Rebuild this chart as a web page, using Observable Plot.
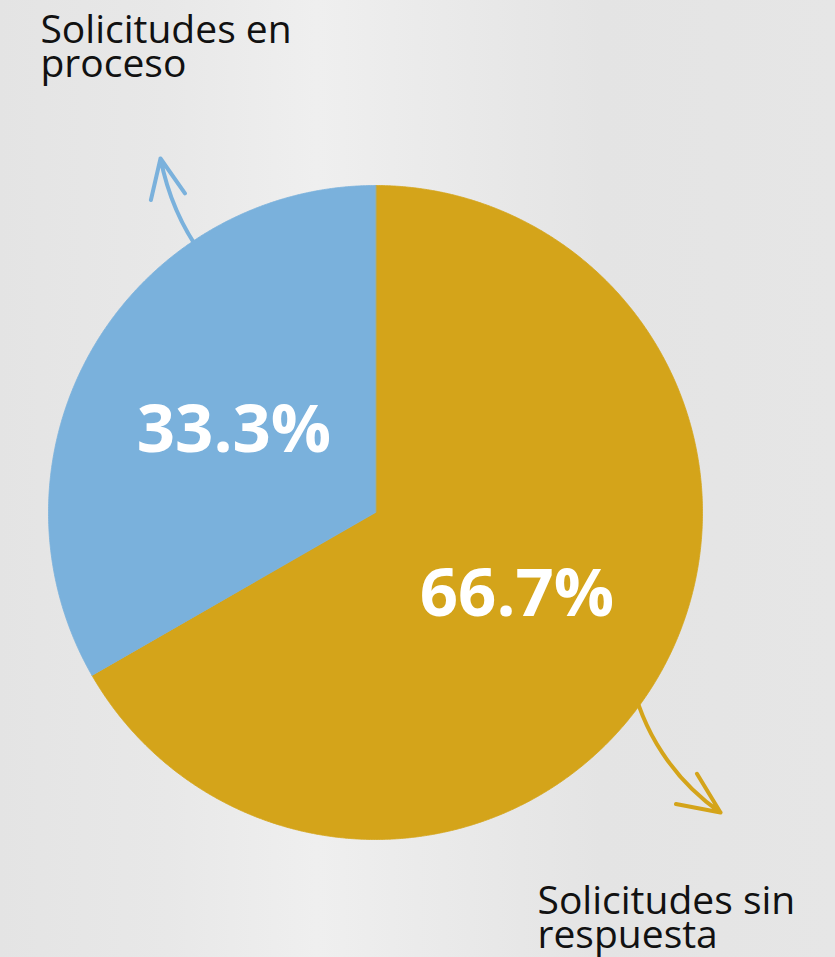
<!DOCTYPE html>
<html><head><meta charset="utf-8">
<script src="https://cdn.jsdelivr.net/npm/d3@7"></script>
<script src="https://cdn.jsdelivr.net/npm/@observablehq/plot@0.6"></script>
<style>
html,body{margin:0;padding:0;width:835px;height:957px;overflow:hidden;}
body{background: linear-gradient(90deg, #e4e4e4 0%, #e8e8e8 20%, #efefef 38%, #ebebeb 50%, #e4e4e4 72%, #e6e6e6 100%);}
#chart svg{display:block;}
</style></head><body><div id="chart"></div>
<script>
// Data
const categories = ["Solicitudes sin respuesta", "Solicitudes en proceso"];
const values = [66.7, 33.3];
const valueLabels = ["66.7%", "33.3%"];
const colors = ["#d4a41a", "#7ab1dc"];
const sideLabels = ["Solicitudes sin\nrespuesta", "Solicitudes en\nproceso"];
// annotation anchors (in pie-radius units)
const labelX = [0.4955, -1.0245];
const labelY = [-1.153, 1.511];
const arrowX1 = [0.78, -0.486];
const arrowY1 = [-0.498, 0.731];
const arrowX2 = [1.055, -0.6575];
const arrowY2 = [-0.9174, 1.0826];
const arrowBend = [-22, 15];

const R = 327, W = 835, H = 957, CX = 375, CY = 512;

const arcs = d3.pie().sort(null).startAngle(0)(values);
function slicePoints(a) {
  const n = Math.max(2, Math.ceil((a.endAngle - a.startAngle) / 0.005));
  const pts = [{x: 0, y: 0}];
  for (let j = 0; j <= n; j++) {
    const t = a.startAngle + (a.endAngle - a.startAngle) * j / n;
    pts.push({x: Math.sin(t), y: Math.cos(t)});
  }
  return pts;
}

const arrowMarks = categories.map((c, i) => Plot.arrow([c], {
  x1: () => arrowX1[i], y1: () => arrowY1[i], x2: () => arrowX2[i], y2: () => arrowY2[i],
  bend: arrowBend[i], stroke: colors[i], strokeWidth: 4, headAngle: 48, headLength: 17,
  strokeLinecap: "round", strokeLinejoin: "round"
}));

const sliceMarks = arcs.map((a, i) => Plot.line(slicePoints(a), {
  x: "x", y: "y", fill: colors[i], stroke: colors[i], strokeWidth: 0.8, curve: "linear-closed"
}));

const chart = Plot.plot({
  width: W, height: H, margin: 0,
  style: {background: "transparent", overflow: "visible"},
  x: {domain: [-CX / R, (W - CX) / R], axis: null},
  y: {domain: [-(H - CY) / R, CY / R], axis: null},
  marks: [
    ...arrowMarks,
    ...sliceMarks,
    Plot.text(arcs, {
      x: a => 0.5 * Math.sin((a.startAngle + a.endAngle) / 2),
      y: a => 0.5 * Math.cos((a.startAngle + a.endAngle) / 2),
      text: (a, i) => valueLabels[i],
      fill: "white", fontSize: 67, fontWeight: 700, fontFamily: "Open Sans"
    }),
    Plot.text(categories, {
      x: (d, i) => labelX[i], y: (d, i) => labelY[i], text: (d, i) => sideLabels[i],
      textAnchor: "start", lineAnchor: "top", lineHeight: 0.88,
      fill: "#111", fontSize: 39, fontFamily: "Open Sans"
    })
  ]
});
document.getElementById("chart").appendChild(chart);
</script></body></html>
